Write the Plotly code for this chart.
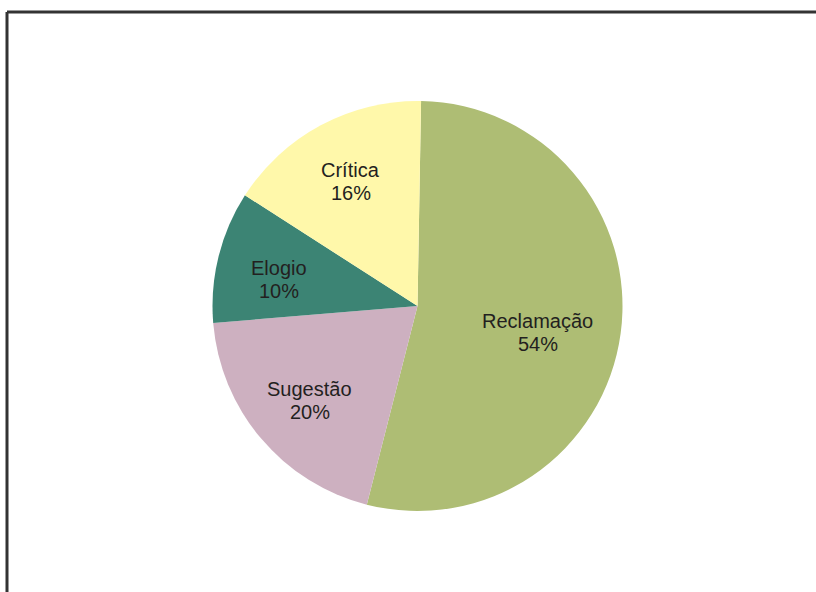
import math
import plotly.graph_objects as go

labels = ["Reclamação", "Sugestão", "Elogio", "Crítica"]
values = [53.7, 19.7, 10.4, 16.2]
colors = ["#AEBD74", "#CDB0C0", "#3C8474", "#FFF8AA"]

# label placement style (radius fraction, angular nudge in degrees)
label_rfrac = [0.60, 0.70, 0.69, 0.69]
label_nudge = [5, -1, -3, 0]

W, H = 816, 592
cx, cy, r = 417.5, 306, 205
start_deg = 1
font_family = "Liberation Sans, Arial, Helvetica, sans-serif"
font_size = 20
line_gap = 23

fig = go.Figure(go.Pie(
    labels=labels,
    values=values,
    marker=dict(colors=colors, line=dict(width=0)),
    sort=False,
    direction="clockwise",
    rotation=start_deg,
    textinfo="none",
    showlegend=False,
    hoverinfo="label+percent",
    domain=dict(x=[(cx - r) / W, (cx + r) / W], y=[(H - cy - r) / H, (H - cy + r) / H]),
))

total = sum(values)
annotations = []
cum = 0.0
for lab, v, rf, nd in zip(labels, values, label_rfrac, label_nudge):
    mid = start_deg + (cum + v / 2) / total * 360 + nd
    cum += v
    a = math.radians(mid)
    px = cx + rf * r * math.sin(a)
    py = cy - rf * r * math.cos(a)
    pct = f"{round(v / total * 100)}%"
    for txt, dy in ((lab, -line_gap / 2), (pct, line_gap / 2)):
        annotations.append(dict(
            x=px / W, y=1 - (py + dy) / H, xref="paper", yref="paper",
            text=txt, showarrow=False, xanchor="center", yanchor="middle",
            font=dict(family=font_family, size=font_size, color="#231F20"),
        ))

fig.update_layout(
    width=W, height=H,
    margin=dict(l=0, r=0, t=0, b=0),
    paper_bgcolor="white",
    annotations=annotations,
    shapes=[
        dict(type="line", xref="paper", yref="paper", x0=7 / W, x1=1.05, y0=1 - 12 / H, y1=1 - 12 / H,
             line=dict(color="#333333", width=3)),
        dict(type="line", xref="paper", yref="paper", x0=7 / W, x1=7 / W, y0=1 - 12 / H, y1=-0.05,
             line=dict(color="#333333", width=3)),
    ],
)

fig.write_html("out.html")
